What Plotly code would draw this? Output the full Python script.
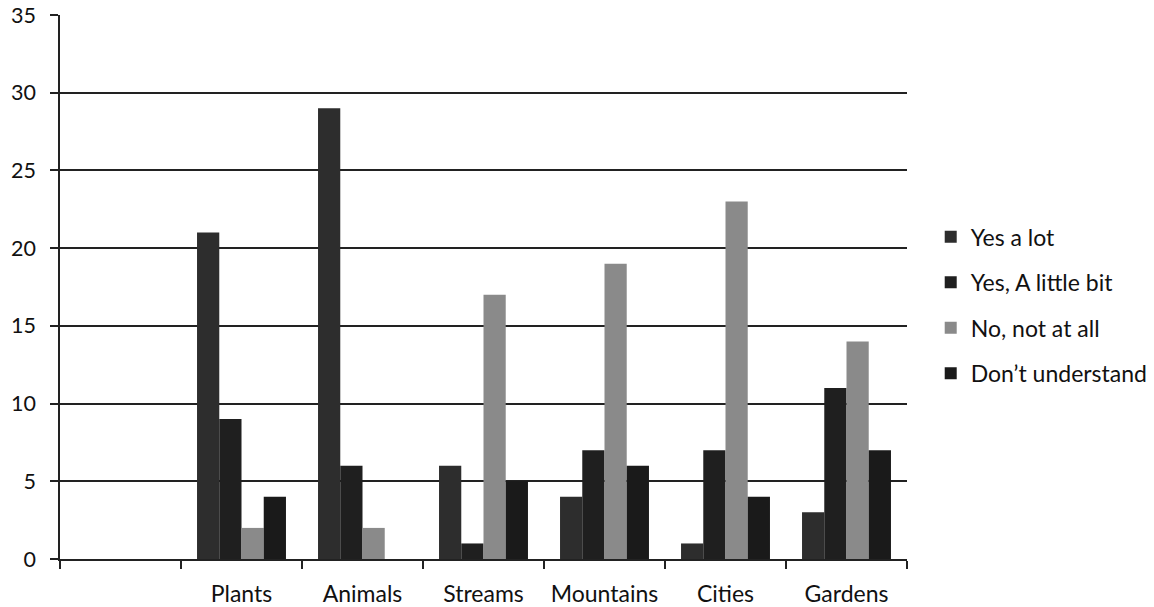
import plotly.graph_objects as go

categories = [" ", "Plants", "Animals", "Streams", "Mountains", "Cities", "Gardens"]
series_names = ["Yes a lot", "Yes, A little bit", "No, not at all", "Don\u2019t understand"]
yes_a_lot = [None, 21, 29, 6, 4, 1, 3]
yes_little = [None, 9, 6, 1, 7, 7, 11]
no_not_at_all = [None, 2, 2, 17, 19, 23, 14]
dont_understand = [None, 4, 0, 5, 6, 4, 7]
colors = ["#2d2d2d", "#1f1f1f", "#8a8a8a", "#1a1a1a"]

FONT = "Lato"
fig = go.Figure()
for i, (name, vals) in enumerate(zip(series_names, [yes_a_lot, yes_little, no_not_at_all, dont_understand])):
    fig.add_trace(go.Bar(x=categories, y=vals, name=name, marker=dict(color=colors[i], line=dict(width=0)),
                         legendgroup=str(i)))

fig.update_layout(
    width=1154, height=607,
    margin=dict(l=60, r=247, t=15, b=48, autoexpand=False),
    paper_bgcolor="white", plot_bgcolor="white",
    barmode="group", bargap=0.265, bargroupgap=0,
    font=dict(family=FONT, size=23, color="#111"),
    legend=dict(x=1.028, y=0.632, xanchor="left", yanchor="top", tracegroupgap=12.6,
                font=dict(size=23), itemwidth=30),
    showlegend=True,
)
fig.update_xaxes(type="category", categoryorder="array", categoryarray=categories,
                 tickson="boundaries", ticks="outside", ticklen=8, tickcolor="#222", tickwidth=1.5,
                 showline=True, linecolor="#222", linewidth=1.5, showgrid=False, automargin=False,
                 tickfont=dict(size=23), range=[-0.5, 6.5], ticklabelstandoff=14)
fig.update_yaxes(range=[0, 35], dtick=5, tick0=0, ticks="outside", ticklen=8, tickcolor="#222", tickwidth=1.5,
                 showline=True, linecolor="#222", linewidth=1.5, automargin=False,
                 showgrid=True, gridcolor="#222", gridwidth=1.5, zeroline=False,
                 tickfont=dict(size=21.5), ticklabelstandoff=10, ticklabeloverflow="allow")
fig.write_html("out.html", config={"displayModeBar": False},
               post_script="document.body.style.margin='0';")
